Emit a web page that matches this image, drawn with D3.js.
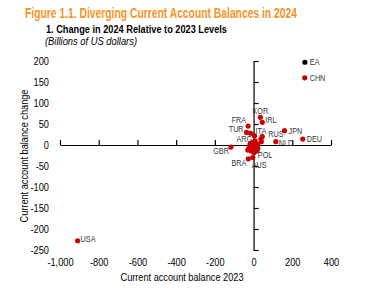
<!DOCTYPE html>
<html>
<head>
<meta charset="utf-8">
<script src="https://cdn.jsdelivr.net/npm/d3@7"></script>
<style>
  body { margin: 0; background: #fff; }
  text { font-family: "Liberation Sans Narrow", "Arial Narrow", "Liberation Sans", Arial, sans-serif; }
</style>
</head>
<body>
<script>
// economies, 2023 current account balance, change in 2024 (billions of US dollars)
var countries = ["EA", "CHN", "KOR", "IRL", "FRA", "TUR", "", "ITA", "RUS", "", "", "JPN", "DEU", "NLD",
                 "GBR", "POL", "BRA", "AUS", "USA", "ARG",
                 "", "", "", "", "", "", "", "", "", "", "", "", ""];
var ca2023 =    [265, 264, 35, 45, -28, -36, -15, 5, 45, 38, 40, 160, 254, 115,
                 -117, 17, -27, -4, -909, 8,
                 -25, -18, -10, -5, 0, 5, 10, 15, -30, 20, -12, 2, 22];
var caChange =  [197, 160, 66, 54, 45, 30, 28, 22, 20, 14, 8, 34, 14, 8,
                 -5, -14, -33, -30, -228, 10,
                 -8, 2, -3, 6, -10, 0, 4, -6, -12, 2, -14, -18, -8];

var xTicks = [-1000, -800, -600, -400, -200, 0, 200, 400];
var yTicks = [-250, -200, -150, -100, -50, 0, 50, 100, 150, 200];

// where each label sits relative to its point
var labelPlace = {
  EA: [5, 0, "start"], CHN: [5, 0, "start"], KOR: [0, -6, "middle"], IRL: [3, -2, "start"],
  FRA: [-2, -6, "end"], TUR: [-3, -3, "end"], ITA: [1, -5, "start"], RUS: [6, -3, "start"],
  JPN: [4, 0, "start"], DEU: [4, 0, "start"], NLD: [3, 1, "start"], GBR: [-2, 4, "end"],
  POL: [1, 4, "start"], BRA: [-2, 4, "end"], AUS: [-1, 7, "start"], USA: [3, -2, "start"],
  ARG: [-3, -2, "end"]
};

// squeeze text to look like a narrow face
function narrow(sel, k) {
  sel.each(function () {
    var w = this.getComputedTextLength();
    d3.select(this).attr("textLength", w * k).attr("lengthAdjust", "spacingAndGlyphs");
  });
}
function fitTo(sel, w) {
  sel.attr("textLength", w).attr("lengthAdjust", "spacingAndGlyphs");
}

var svg = d3.select("body").append("svg")
  .attr("width", 365)
  .attr("height", 293);

svg.append("text")
  .attr("x", 25).attr("y", 18)
  .attr("fill", "#f7931e")
  .attr("font-size", 14)
  .attr("font-weight", "bold")
  .text("Figure 1.1. Diverging Current Account Balances in 2024")
  .call(fitTo, 272);

svg.append("text")
  .attr("x", 46).attr("y", 33)
  .attr("fill", "#000")
  .attr("font-size", 11)
  .attr("font-weight", "bold")
  .text("1. Change in 2024 Relative to 2023 Levels")
  .call(fitTo, 181);

svg.append("text")
  .attr("x", 45).attr("y", 45)
  .attr("fill", "#000")
  .attr("font-size", 10)
  .attr("font-style", "italic")
  .text("(Billions of US dollars)")
  .call(fitTo, 92);

var x = d3.scaleLinear().domain([-1000, 400]).range([60, 331]);
var y = d3.scaleLinear().domain([-250, 200]).range([250, 61]);

var fmt = function (d) { return d3.format(",")(d).replace("\u2212", "-"); };

// axis lines through the origin, ticks pointing inward
svg.append("g")
  .attr("transform", "translate(" + x(0) + ",0)")
  .call(d3.axisRight(y).tickValues(yTicks).tickSize(5).tickSizeOuter(0).tickFormat(""));

svg.append("g")
  .attr("transform", "translate(0," + y(0) + ")")
  .call(d3.axisTop(x).tickValues(xTicks).tickSize(5).tickSizeOuter(0).tickFormat(""));

svg.selectAll(".domain, .tick line").attr("stroke", "#000").attr("stroke-width", 1.2);

// tick labels on the outside
var yLab = svg.append("g")
  .attr("transform", "translate(52,0)")
  .call(d3.axisLeft(y).tickValues(yTicks).tickSize(0).tickPadding(3).tickFormat(fmt));
yLab.select(".domain").remove();
yLab.selectAll("text").attr("font-size", 10.5).attr("fill", "#000")
  .attr("font-family", null)
  .call(narrow, 0.88);

var xLab = svg.append("g")
  .attr("transform", "translate(0,259)")
  .call(d3.axisBottom(x).tickValues(xTicks).tickSize(0).tickPadding(0).tickFormat(fmt));
xLab.select(".domain").remove();
xLab.selectAll("text").attr("font-size", 10.5).attr("fill", "#000")
  .attr("font-family", null)
  .call(narrow, 0.88);

svg.append("text")
  .attr("transform", "translate(28,156) rotate(-90)")
  .attr("text-anchor", "middle")
  .attr("font-size", 10.5)
  .attr("fill", "#000")
  .text("Current account balance change")
  .call(fitTo, 133);

svg.append("text")
  .attr("x", 182).attr("y", 281)
  .attr("text-anchor", "middle")
  .attr("font-size", 10.5)
  .attr("fill", "#000")
  .text("Current account balance 2023")
  .call(fitTo, 123);

var points = countries.map(function (c, i) {
  return { name: c, x: ca2023[i], y: caChange[i] };
});

svg.selectAll("circle.pt")
  .data(points)
  .enter()
  .append("circle")
  .attr("class", "pt")
  .attr("cx", function (d) { return x(d.x); })
  .attr("cy", function (d) { return y(d.y); })
  .attr("r", 2.6)
  .attr("fill", function (d) { return d.name === "EA" ? "#000" : "#cc0000"; });

svg.selectAll("text.lbl")
  .data(points.filter(function (d) { return d.name !== ""; }))
  .enter()
  .append("text")
  .attr("class", "lbl")
  .attr("x", function (d) { return x(d.x) + labelPlace[d.name][0]; })
  .attr("y", function (d) { return y(d.y) + labelPlace[d.name][1]; })
  .attr("dy", "0.35em")
  .attr("text-anchor", function (d) { return labelPlace[d.name][2]; })
  .attr("font-size", 8.5)
  .attr("fill", "#333")
  .text(function (d) { return d.name; })
  .call(narrow, 0.85);
</script>
</body>
</html>
